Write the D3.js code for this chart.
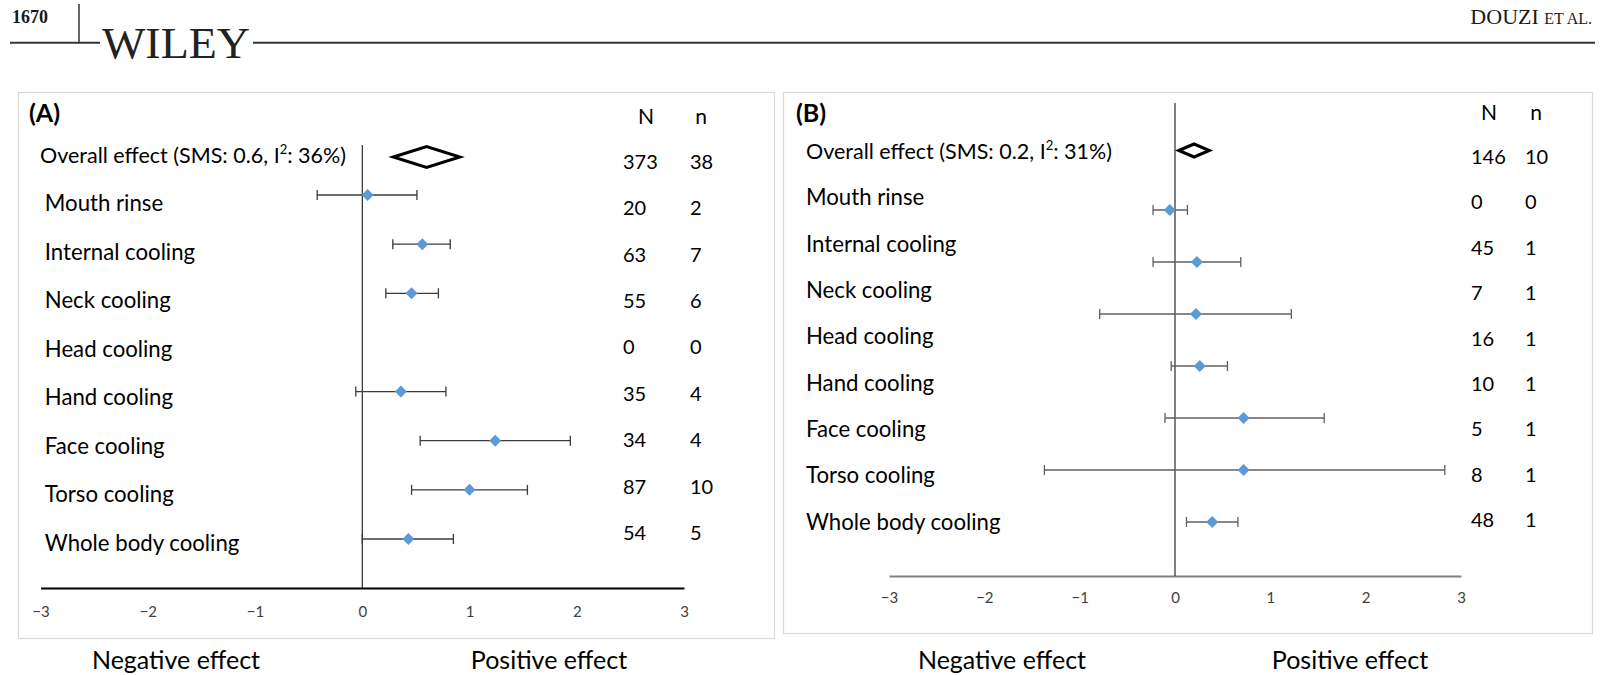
<!DOCTYPE html>
<html>
<head>
<meta charset="utf-8">
<script src="https://cdn.jsdelivr.net/npm/d3@7"></script>
<style>
  html, body { margin: 0; padding: 0; background: #fff; }
  svg { display: block; }
</style>
</head>
<body>
<svg id="chart" width="1606" height="675"></svg>
<script>
// Cooling subgroups, in row order
const categories = ["Mouth rinse", "Internal cooling", "Neck cooling", "Head cooling",
  "Hand cooling", "Face cooling", "Torso cooling", "Whole body cooling"];

// Panel A: standardised mean shift and 95% CI per subgroup (null = no studies)
const estimateA = [0.05, 0.56, 0.46, null, 0.36, 1.24, 1.00, 0.43];
const lowerA    = [-0.42, 0.285, 0.22, null, -0.06, 0.54, 0.46, 0.00];
const upperA    = [0.51, 0.82, 0.71, null, 0.78, 1.94, 1.54, 0.85];
const participantsA = [20, 63, 55, 0, 35, 34, 87, 54];
const studiesA      = [2, 7, 6, 0, 4, 4, 10, 5];

// Panel B
const estimateB = [null, -0.055, 0.23, 0.22, 0.26, 0.72, 0.72, 0.39];
const lowerB    = [null, -0.23, -0.23, -0.79, -0.04, -0.105, -1.37, 0.12];
const upperB    = [null, 0.13, 0.69, 1.22, 0.55, 1.565, 2.83, 0.66];
const participantsB = [0, 45, 7, 16, 10, 5, 8, 48];
const studiesB      = [0, 1, 1, 1, 1, 1, 1, 1];

// Pooled effect for each panel (A, B)
const overallSMS   = [0.6, 0.2];
const overallI2    = [36, 31];
const overallLower = [0.29, 0.04];
const overallUpper = [0.91, 0.36];
const overallN     = [373, 146];
const overallStudies = [38, 10];

const panelLetters = ["(A)", "(B)"];
const xTicks = [-3, -2, -1, 0, 1, 2, 3];
const effectLabels = ["Negative effect", "Positive effect"];

const svg = d3.select("#chart");
const FONT = "Lato, 'Open Sans', sans-serif";
const SERIF = "'Liberation Serif', 'DejaVu Serif', serif";

// ---- journal page header ----
const header = svg.append("g");
header.append("text").attr("x", 12).attr("y", 23)
  .attr("font-family", SERIF).attr("font-weight", "bold").attr("font-size", 18)
  .attr("fill", "#1a1a1a").text("1670");
header.append("line").attr("x1", 79).attr("x2", 79).attr("y1", 4).attr("y2", 43)
  .attr("stroke", "#333").attr("stroke-width", 1.5);
header.append("line").attr("x1", 10).attr("x2", 100).attr("y1", 42.7).attr("y2", 42.7)
  .attr("stroke", "#333").attr("stroke-width", 2);
header.append("line").attr("x1", 253).attr("x2", 1595).attr("y1", 42.7).attr("y2", 42.7)
  .attr("stroke", "#333").attr("stroke-width", 2);
header.append("text").attr("x", 102).attr("y", 58)
  .attr("font-family", SERIF).attr("font-size", 45).attr("fill", "#222")
  .attr("textLength", 148).attr("lengthAdjust", "spacingAndGlyphs")
  .text("WILEY");
const byline = header.append("text").attr("x", 1592).attr("y", 24)
  .attr("text-anchor", "end").attr("font-family", SERIF).attr("fill", "#1a1a1a");
byline.append("tspan").attr("font-size", 22).text("DOUZI ");
byline.append("tspan").attr("font-size", 16).text("ET AL.");

// ---- forest panel ----
function drawPanel(p, cfg) {
  const est = p === 0 ? estimateA : estimateB;
  const lo = p === 0 ? lowerA : lowerB;
  const hi = p === 0 ? upperA : upperB;
  const nPart = p === 0 ? participantsA : participantsB;
  const nStud = p === 0 ? studiesA : studiesB;

  const g = svg.append("g");

  // frame
  g.append("rect").attr("x", cfg.frame[0] + 0.5).attr("y", cfg.frame[1] + 0.5)
    .attr("width", cfg.frame[2] - cfg.frame[0]).attr("height", cfg.frame[3] - cfg.frame[1])
    .attr("fill", "#fff").attr("stroke", "#d9d9d9").attr("stroke-width", 1.2);

  const x = d3.scaleLinear().domain([-3, 3]).range(cfg.xRange);
  const rows = ["Overall"].concat(categories);
  const labelY = d3.scalePoint().domain(rows).range(cfg.labelRange);
  const countY = d3.scalePoint().domain(rows).range(cfg.countRange);
  const markY = d3.scalePoint().domain(categories).range(cfg.markRange);

  // axis
  const axis = g.append("g").attr("transform", `translate(0,${cfg.axisY})`)
    .call(d3.axisBottom(x).tickValues(xTicks).tickSize(0).tickSizeOuter(0)
      .tickPadding(cfg.tickPad).tickFormat(d3.format("d")));
  axis.select(".domain").attr("stroke", cfg.axisColor).attr("stroke-width", 2);
  axis.selectAll("text").attr("font-family", FONT).attr("font-size", 15).attr("fill", "#404040");

  // line of no effect
  g.append("line").attr("x1", x(0)).attr("x2", x(0))
    .attr("y1", cfg.zeroTop).attr("y2", cfg.axisY)
    .attr("stroke", "#000").attr("stroke-width", 1);

  // panel letter and column headers
  g.append("text").attr("x", cfg.letterX).attr("y", 113).attr("dy", "0.35em")
    .attr("font-family", FONT).attr("font-weight", "bold").attr("font-size", 25)
    .attr("fill", "#000").text(panelLetters[p]);
  g.append("text").attr("x", cfg.nHeadX).attr("y", cfg.headY).attr("dy", "0.35em")
    .attr("text-anchor", "middle").attr("font-family", FONT).attr("font-size", 21)
    .text("N");
  g.append("text").attr("x", cfg.sHeadX).attr("y", cfg.headY).attr("dy", "0.35em")
    .attr("text-anchor", "middle").attr("font-family", FONT).attr("font-size", 21)
    .text("n");

  // overall row label with superscript
  const ov = g.append("text").attr("x", cfg.overallX).attr("y", labelY("Overall")).attr("dy", "0.35em")
    .attr("font-family", FONT).attr("font-size", 21.5).attr("fill", "#000");
  ov.append("tspan").text(`Overall effect (SMS: ${overallSMS[p]}, I`);
  ov.append("tspan").attr("font-size", 13).attr("dy", -9).text("2");
  ov.append("tspan").attr("dy", 9).text(`: ${overallI2[p]}%)`);

  // subgroup labels
  g.selectAll("text.cat").data(categories).join("text").attr("class", "cat")
    .attr("x", cfg.catX).attr("y", d => labelY(d)).attr("dy", "0.35em")
    .attr("font-family", FONT).attr("font-size", 22.2).attr("fill", "#000").text(d => d);

  // N and n columns
  const counts = [{ N: overallN[p], n: overallStudies[p], row: "Overall" }]
    .concat(categories.map((c, i) => ({ N: nPart[i], n: nStud[i], row: c })));
  g.selectAll("text.bigN").data(counts).join("text").attr("class", "bigN")
    .attr("x", cfg.nX).attr("y", d => countY(d.row)).attr("dy", "0.35em")
    .attr("font-family", FONT).attr("font-size", 20).text(d => d.N);
  g.selectAll("text.smallN").data(counts).join("text").attr("class", "smallN")
    .attr("x", cfg.sX).attr("y", d => countY(d.row)).attr("dy", "0.35em")
    .attr("font-family", FONT).attr("font-size", 20).text(d => d.n);

  // pooled-effect diamond
  const dy = cfg.diamondY, dh = cfg.diamondHalf;
  const oc = overallSMS[p];
  g.append("path")
    .attr("d", `M${x(overallLower[p])},${dy} L${x(oc)},${dy - dh} L${x(overallUpper[p])},${dy} L${x(oc)},${dy + dh} Z`)
    .attr("fill", "#fff").attr("stroke", "#000").attr("stroke-width", 3)
    .attr("stroke-linejoin", "miter");

  // subgroup confidence intervals and point estimates
  const sub = categories.map((c, i) => ({ c, est: est[i], lo: lo[i], hi: hi[i] }))
    .filter(d => d.est !== null);
  const ci = g.selectAll("g.ci").data(sub).join("g").attr("class", "ci");
  ci.append("line").attr("x1", d => x(d.lo)).attr("x2", d => x(d.hi))
    .attr("y1", d => markY(d.c)).attr("y2", d => markY(d.c))
    .attr("stroke", cfg.ciColor).attr("stroke-width", 1.3);
  ci.append("line").attr("x1", d => x(d.lo)).attr("x2", d => x(d.lo))
    .attr("y1", d => markY(d.c) - 5).attr("y2", d => markY(d.c) + 5)
    .attr("stroke", cfg.ciColor).attr("stroke-width", 1.3);
  ci.append("line").attr("x1", d => x(d.hi)).attr("x2", d => x(d.hi))
    .attr("y1", d => markY(d.c) - 5).attr("y2", d => markY(d.c) + 5)
    .attr("stroke", cfg.ciColor).attr("stroke-width", 1.3);
  ci.append("path")
    .attr("transform", d => `translate(${x(d.est)},${markY(d.c)})`)
    .attr("d", d3.symbol().type(d3.symbolDiamond2).size(92))
    .attr("fill", "#5b9bd5");

  // effect direction captions below the frame
  g.selectAll("text.effect").data(effectLabels).join("text").attr("class", "effect")
    .attr("x", (d, i) => cfg.effectX[i]).attr("y", 660).attr("dy", "0.35em")
    .attr("text-anchor", "middle").attr("font-family", FONT).attr("font-size", 25)
    .attr("fill", "#000").text(d => d);
}

drawPanel(0, {
  frame: [18, 92, 774, 638],
  xRange: [40.5, 684],
  axisY: 588, tickPad: 18.5, axisColor: "#000",
  zeroTop: 145,
  labelRange: [155, 543], countRange: [161.7, 533], markRange: [195, 539],
  letterX: 29, headY: 117, nHeadX: 646, sHeadX: 701,
  overallX: 40, catX: 44.8, nX: 623, sX: 690,
  diamondY: 157, diamondHalf: 10.5,
  ciColor: "#3a3a3a",
  effectX: [176, 549]
});

drawPanel(1, {
  frame: [783, 92, 1592, 633],
  xRange: [889, 1461],
  axisY: 576, tickPad: 16.5, axisColor: "#7f7f7f",
  zeroTop: 103,
  labelRange: [151, 522], countRange: [157, 520], markRange: [158, 522],
  letterX: 796, headY: 113, nHeadX: 1489, sHeadX: 1536,
  overallX: 806, catX: 806, nX: 1471, sX: 1525,
  diamondY: 150.5, diamondHalf: 6.5,
  ciColor: "#5f5f5f",
  effectX: [1002, 1350]
});
</script>
</body>
</html>
